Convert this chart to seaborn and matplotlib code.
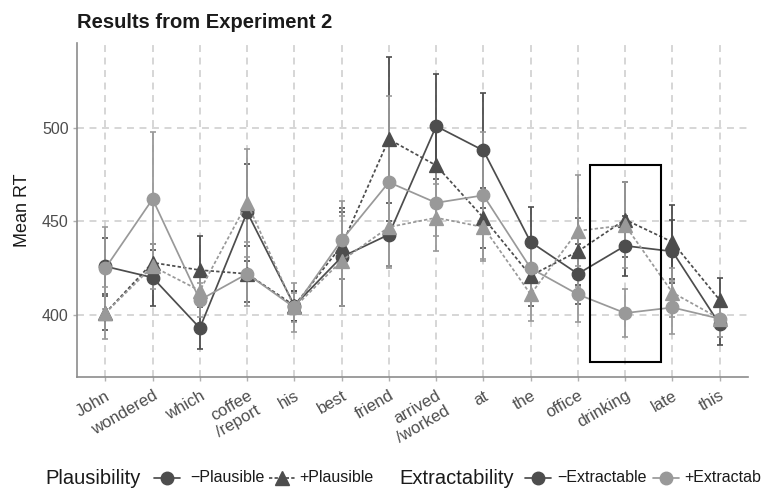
import numpy as np
import pandas as pd
import matplotlib
matplotlib.use("Agg")
import matplotlib.pyplot as plt
import seaborn as sns
from matplotlib.lines import Line2D
from matplotlib.patches import Rectangle

# ---------------- data ----------------
words = ["John", "wondered", "which", "coffee\n/report", "his", "best", "friend",
         "arrived\n/worked", "at", "the", "office", "drinking", "late", "this"]

# -Plausible / -Extractable  (dark circle, solid)
rt_mP_mE = [426, 420, 393, 455, 405, 431, 443, 501, 488, 439, 422, 437, 434, 395]
se_mP_mE = [15, 15, 11, 26, 8, 26, 17, 28, 31, 19, 16, 16, 17, 11]
# +Plausible / -Extractable  (dark triangle, dashed)
rt_pP_mE = [401, 428, 424, 422, 405, 437, 494, 480, 452, 421, 434, 451, 439, 408]
se_pP_mE = [9, 10, 18, 15, 8, 18, 44, 20, 16, 16, 18, 20, 20, 12]
# -Plausible / +Extractable  (light circle, solid)
rt_mP_pE = [425, 462, 408, 422, 404, 440, 471, 460, 464, 425, 411, 401, 404, 398]
se_mP_pE = [22, 36, 9, 17, 8, 21, 46, 18, 34, 13, 15, 13, 14, 10]
# +Plausible / +Extractable  (light triangle, dashed)
rt_pP_pE = [401, 426, 413, 460, 404, 429, 447, 452, 447, 411, 445, 448, 412, 398]
se_pP_pE = [14, 12, 8, 29, 13, 24, 21, 18, 18, 14, 30, 23, 13, 10]

cond_order = ["-P-E", "+P-E", "-P+E", "+P+E"]
cond_rt = {"-P-E": rt_mP_mE, "+P-E": rt_pP_mE, "-P+E": rt_mP_pE, "+P+E": rt_pP_pE}
cond_se = {"-P-E": se_mP_mE, "+P-E": se_pP_mE, "-P+E": se_mP_pE, "+P+E": se_pP_pE}

DARK = "#4d4d4d"
LIGHT = "#999999"
cond_color = {"-P-E": DARK, "+P-E": DARK, "-P+E": LIGHT, "+P+E": LIGHT}
cond_marker = {"-P-E": "o", "+P-E": "^", "-P+E": "o", "+P+E": "^"}
cond_ls = {"-P-E": "-", "+P-E": "--", "-P+E": "-", "+P+E": "--"}

# highlighted region (around "drinking")
box_x0, box_x1 = 10.25, 11.75
box_y0, box_y1 = 375, 480

rows = []
for c in cond_order:
    for w, v in zip(words, cond_rt[c]):
        rows.append({"word": w, "cond": c, "rt": v})
df = pd.DataFrame(rows)

# ---------------- style ----------------
sns.set_theme(style="white")
plt.rcParams['font.family'] = ['Liberation Sans', 'DejaVu Sans']
plt.rcParams['lines.scale_dashes'] = False
plt.rcParams['lines.dashed_pattern'] = [2.4, 1.6]

W, H = 761, 491
fig = plt.figure(figsize=(W / 100, H / 100), dpi=100)
ax = fig.add_axes([77 / W, 1 - 377 / H, (748 - 77) / W, (377 - 43) / H])

# error bars
for c in cond_order:
    ax.errorbar(np.arange(len(words)), cond_rt[c], yerr=cond_se[c], fmt="none",
                ecolor=cond_color[c], elinewidth=1.3, capsize=2, capthick=1.2,
                zorder=1.8)

sns.pointplot(data=df, x="word", y="rt", hue="cond", order=words,
              hue_order=cond_order, palette=cond_color,
              markers=[cond_marker[c] for c in cond_order],
              linestyles=[cond_ls[c] for c in cond_order],
              errorbar=None, legend=False, ax=ax,
              markersize=9, linewidth=1.25)

# triangles a bit larger, as in the reference
for ln in ax.lines:
    if ln.get_marker() == "^":
        ln.set_markersize(10.5)

ax.add_patch(Rectangle((box_x0, box_y0), box_x1 - box_x0, box_y1 - box_y0,
                       fill=False, edgecolor="black", linewidth=1.5, zorder=6))

ax.grid(True, which="major", axis="both", color="#cccccc",
        linestyle=(0, (5, 4)), linewidth=1.1)
ax.set_axisbelow(True)

ax.set_xlim(-0.6, 13.6)
ax.set_ylim(366.8, 545.5)
ax.set_yticks([400, 450, 500])
ax.set_xticks(np.arange(len(words)))
ax.set_xticklabels(words, rotation=30, ha="right", rotation_mode="anchor")
ax.set_xlabel("")
ax.set_ylabel("Mean RT", fontsize=13, color="#1a1a1a")
ax.yaxis.set_label_coords(-0.068, 0.5)

for s in ["top", "right"]:
    ax.spines[s].set_visible(False)
for s in ["left", "bottom"]:
    ax.spines[s].set_color("#8c8c8c")
    ax.spines[s].set_linewidth(1.2)
ax.tick_params(axis="both", which="major", length=3, width=1, color="#b0b0b0",
               labelcolor="#4d4d4d", labelsize=11.5, pad=3, bottom=True, left=True)
ax.tick_params(axis="x", labelsize=12, pad=5)

fig.text(77 / W, 1 - 28 / H, "Results from Experiment 2", fontsize=14.5,
         fontweight="bold", color="#1a1a1a", ha="left", va="baseline")

# ---------------- legend (bottom, inline titles) ----------------
ly = 1 - 478 / H
def key(xc, color, marker, ls, ms=9):
    half = 13 / W
    fig.add_artist(Line2D([xc / W - half, xc / W + half], [ly, ly], color=color,
                          linestyle=ls, linewidth=1.25, transform=fig.transFigure))
    fig.add_artist(Line2D([xc / W], [ly], color=color, marker=marker, markersize=ms,
                          linestyle="none", transform=fig.transFigure))

fig.text(45 / W, ly, "Plausibility", fontsize=14.5, color="#1a1a1a", ha="left", va="center")
key(167, DARK, "o", "-")
fig.text(190 / W, ly, "\u2212Plausible", fontsize=11.5, color="#1a1a1a", ha="left", va="center")
key(282, DARK, "^", "--", 10.5)
fig.text(299 / W, ly, "+Plausible", fontsize=11.5, color="#1a1a1a", ha="left", va="center")
fig.text(399 / W, ly, "Extractability", fontsize=14.5, color="#1a1a1a", ha="left", va="center")
key(538, DARK, "o", "-")
fig.text(557 / W, ly, "\u2212Extractable", fontsize=11.5, color="#1a1a1a", ha="left", va="center")
key(666, LIGHT, "o", "-")
fig.text(684 / W, ly, "+Extractable", fontsize=11.5, color="#1a1a1a", ha="left", va="center")

fig.savefig("out.png", dpi=100)
